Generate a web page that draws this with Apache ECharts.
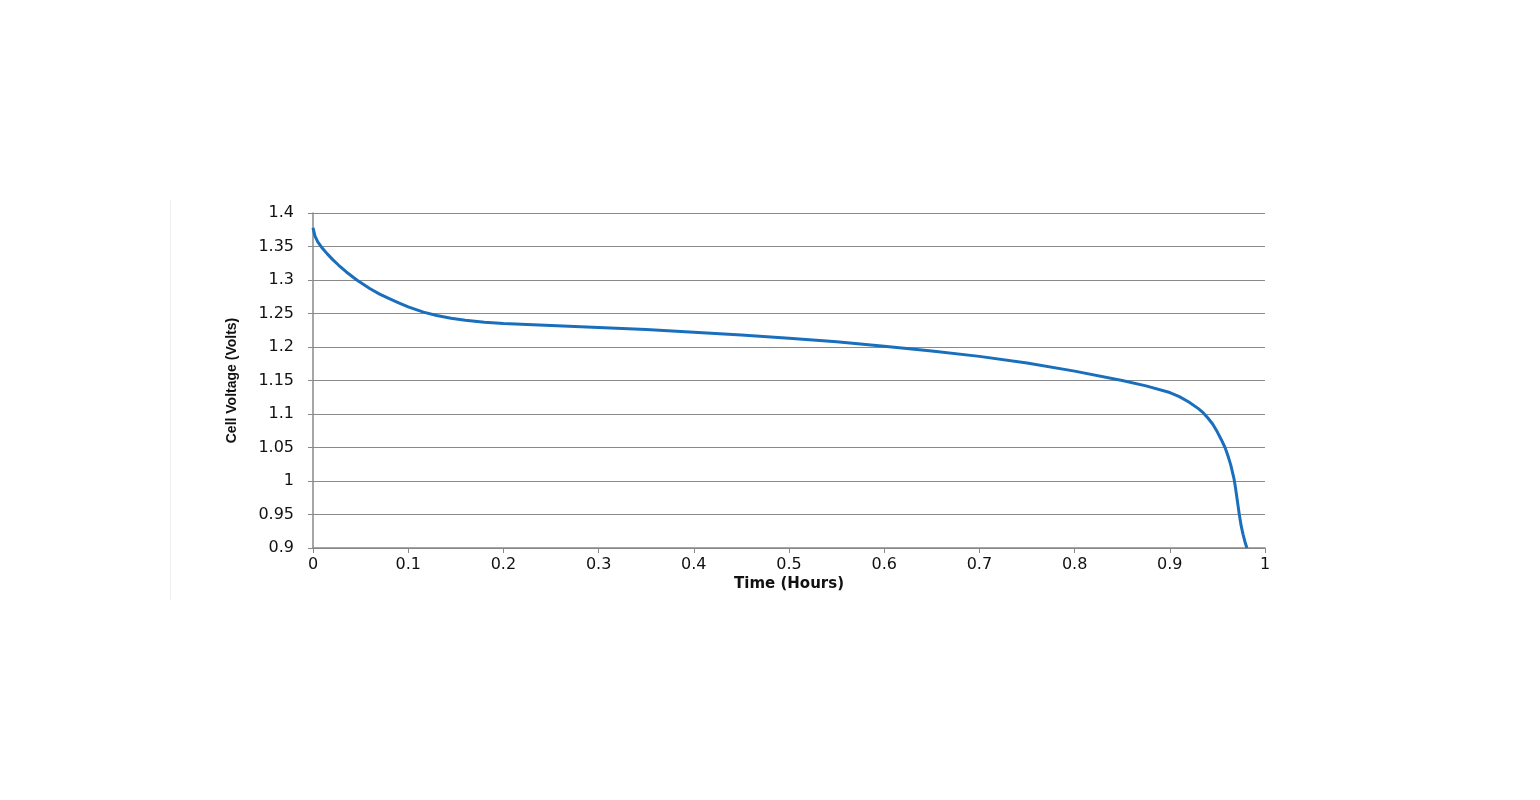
<!DOCTYPE html>
<html><head><meta charset="utf-8">
<script src="https://cdn.jsdelivr.net/npm/echarts@6/dist/echarts.min.js"></script>
<style>html,body{margin:0;padding:0;background:#fff}#c{width:1540px;height:800px}</style>
</head><body><div id="c"></div>
<script>
const timeHours = [0, 0.002, 0.005, 0.009, 0.015, 0.021, 0.027, 0.035, 0.046, 0.06, 0.07, 0.079, 0.09, 0.1, 0.116, 0.13, 0.145, 0.16, 0.18, 0.2, 0.25, 0.3, 0.35, 0.4, 0.45, 0.5, 0.55, 0.6, 0.65, 0.7, 0.75, 0.8, 0.85, 0.875, 0.9, 0.91, 0.92, 0.93, 0.935, 0.94, 0.945, 0.95, 0.954, 0.958, 0.961, 0.964, 0.966, 0.9675, 0.969, 0.971, 0.973, 0.975, 0.977, 0.979, 0.981];
const cellVoltage = [1.378, 1.366, 1.357, 1.349, 1.339, 1.33, 1.322, 1.312, 1.3, 1.287, 1.279, 1.273, 1.266, 1.26, 1.252, 1.247, 1.243, 1.24, 1.237, 1.235, 1.232, 1.229, 1.226, 1.222, 1.218, 1.213, 1.208, 1.201, 1.194, 1.186, 1.176, 1.164, 1.15, 1.142, 1.132, 1.126, 1.118, 1.108, 1.102, 1.094, 1.085, 1.073, 1.062, 1.05, 1.038, 1.024, 1.012, 1.003, 0.99, 0.97, 0.95, 0.933, 0.92, 0.909, 0.9];
const xTitle = 'Time (Hours)';
const yTitle = 'Cell Voltage (Volts)';

const chart = echarts.init(document.getElementById('c'));
chart.setOption({
  animation: false,
  backgroundColor: '#fff',
  graphic: [{type: 'line', shape: {x1: 170.5, y1: 200, x2: 170.5, y2: 600}, style: {stroke: '#eeeeee', lineWidth: 1}}],
  grid: {left: 313, right: 275, top: 213, bottom: 252},
  xAxis: {
    type: 'value', min: 0, max: 1, interval: 0.1,
    name: xTitle, nameLocation: 'middle', nameGap: 29,
    nameTextStyle: {fontFamily: 'DejaVu Sans', fontWeight: 'bold', fontSize: 15, color: '#111'},
    axisLine: {lineStyle: {color: '#888', width: 1.5}},
    axisTick: {show: true, length: 5, lineStyle: {color: '#888'}},
    axisLabel: {fontFamily: 'DejaVu Sans', fontSize: 16, color: '#111', margin: 9,
      formatter: v => String(Math.round(v * 10) / 10)},
    splitLine: {show: false}
  },
  yAxis: {
    type: 'value', min: 0.9, max: 1.4, interval: 0.05,
    name: yTitle, nameLocation: 'middle', nameGap: 74, nameRotate: 90,
    nameTextStyle: {fontFamily: 'Liberation Sans', fontWeight: 'bold', fontSize: 14, color: '#111'},
    axisLine: {show: true, lineStyle: {color: '#888', width: 1.5}},
    axisTick: {show: true, length: 5, lineStyle: {color: '#888'}},
    axisLabel: {fontFamily: 'DejaVu Sans', fontSize: 16, color: '#111', margin: 19,
      formatter: v => String(Math.round(v * 100) / 100)},
    splitLine: {show: true, lineStyle: {color: '#8a8a8a', width: 1}}
  },
  series: [{
    type: 'line', smooth: false, showSymbol: false,
    data: timeHours.map((t, i) => [t, cellVoltage[i]]),
    lineStyle: {color: '#1a6fbd', width: 3, join: 'round'}
  }]
});
</script></body></html>
